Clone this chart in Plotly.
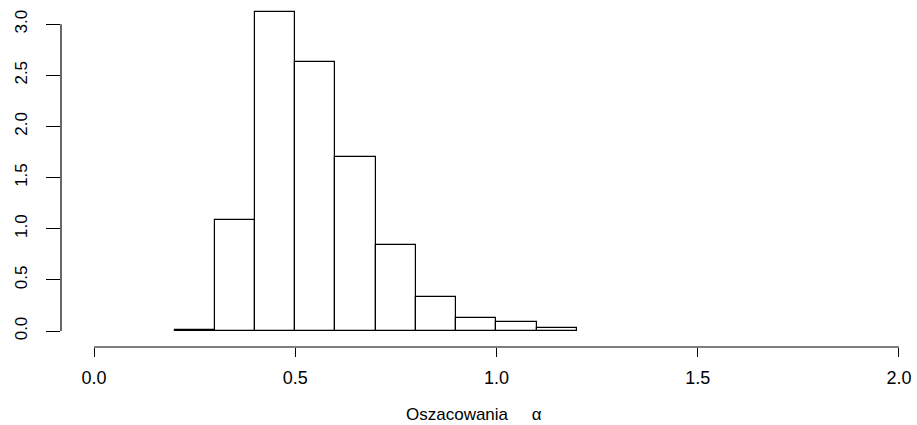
import plotly.graph_objects as go

# Histogram of estimates: bin edges and density per bin
bin_left = [0.2, 0.3, 0.4, 0.5, 0.6, 0.7, 0.8, 0.9, 1.0, 1.1]
bin_width = 0.1
density = [0.012, 1.09, 3.12, 2.63, 1.70, 0.845, 0.335, 0.125, 0.093, 0.03]

x_ticks = [0.0, 0.5, 1.0, 1.5, 2.0]
x_tick_text = ["0.0", "0.5", "1.0", "1.5", "2.0"]
y_ticks = [0.0, 0.5, 1.0, 1.5, 2.0, 2.5, 3.0]
y_tick_text = ["0.0", "0.5", "1.0", "1.5", "2.0", "2.5", "3.0"]

centers = [b + bin_width / 2 for b in bin_left]

family = "Liberation Sans, Arial, sans-serif"
xfont = dict(family=family, size=18, color="black")
yfont = dict(family=family, size=17, color="black")
title_font = dict(family=family, size=17, color="black")

fig = go.Figure()
fig.add_trace(go.Bar(
    x=centers, y=density, width=[bin_width] * len(centers),
    marker=dict(color="white", line=dict(color="black", width=1.2)),
    hoverinfo="skip",
))

# Detached R-style axis lines spanning only the tick range
fig.add_shape(type="line", xref="x", yref="paper",
              x0=x_ticks[0], x1=x_ticks[-1], y0=0, y1=0,
              line=dict(color="black", width=1.2))
fig.add_shape(type="line", xref="paper", yref="y",
              x0=0, x1=0, y0=y_ticks[0], y1=y_ticks[-1],
              line=dict(color="black", width=1.2))

fig.add_annotation(text="Oszacowania     α", xref="paper", yref="paper",
                   x=(474 - 61) / 848, y=-67 / 342, yanchor="middle",
                   showarrow=False, font=title_font)

fig.update_layout(
    width=917, height=425,
    margin=dict(l=61, r=8, t=5, b=78),
    plot_bgcolor="white", paper_bgcolor="white",
    showlegend=False, bargap=0,
    font=xfont,
    xaxis=dict(range=[-0.082, 2.025], tickvals=x_ticks, ticktext=x_tick_text,
               showgrid=False, zeroline=False, showline=False,
               ticks="outside", ticklen=9, tickwidth=1.2, tickcolor="black",
               ticklabelstandoff=5, tickfont=xfont),
    yaxis=dict(range=[-0.156, 3.187], tickvals=y_ticks, ticktext=y_tick_text,
               showgrid=False, zeroline=False, showline=False,
               ticks="outside", ticklen=14, tickwidth=1.2, tickcolor="black",
               tickangle=-90, ticklabelstandoff=12, tickfont=yfont),
)

fig.write_html("out.html")
